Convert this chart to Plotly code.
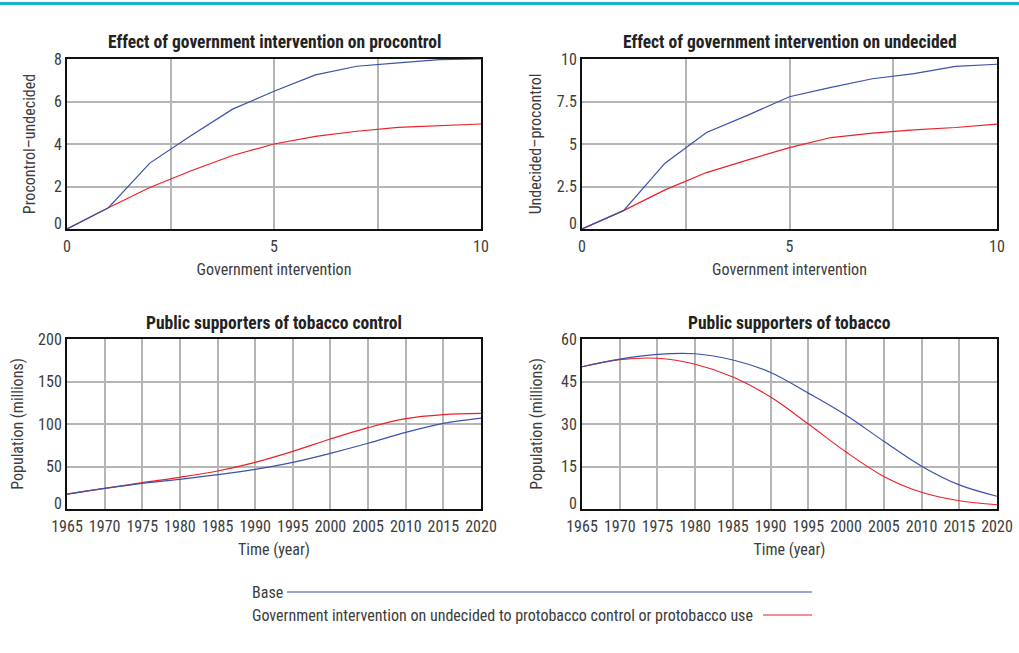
import plotly.graph_objects as go

# Effect of government intervention (lookup curves)
gi_x = [0, 1, 2, 3, 4, 5, 6, 7, 8, 9, 10]
procontrol_base = [0, 1.0, 3.1, 4.4, 5.64, 6.48, 7.25, 7.66, 7.82, 7.97, 8.0]
procontrol_int = [0, 1.0, 1.95, 2.74, 3.46, 4.0, 4.36, 4.6, 4.78, 4.86, 4.94]
undecided_base = [0, 1.08, 3.87, 5.68, 6.7, 7.78, 8.33, 8.84, 9.14, 9.57, 9.69]
undecided_int = [0, 1.08, 2.3, 3.32, 4.07, 4.79, 5.38, 5.64, 5.83, 5.97, 6.17]

# Simulated populations over time
years = [1965, 1970, 1975, 1980, 1985, 1990, 1995, 2000, 2005, 2010, 2015, 2020]
control_base = [17.6, 24.3, 30.2, 34.9, 40.4, 46.7, 54.9, 65.5, 77.3, 90.2, 100.8, 107.0]
control_int = [17.6, 24.3, 31.0, 37.3, 44.7, 54.9, 67.8, 82.4, 95.7, 106.3, 111.0, 112.5]
tobacco_base = [50.2, 52.9, 54.6, 54.8, 52.6, 48.2, 40.9, 33.1, 23.9, 15.1, 8.5, 4.5]
tobacco_int = [50.2, 52.7, 53.2, 51.1, 46.6, 39.5, 30.0, 20.1, 11.5, 5.9, 2.9, 1.5]

# Tick values
gi_ticks_x = [0, 2.5, 5, 7.5, 10]
gi_labels_x = ["0", "", "5", "", "10"]
procontrol_ticks = [0, 2, 4, 6, 8]
undecided_ticks = [0, 2.5, 5, 7.5, 10]
control_ticks = [0, 50, 100, 150, 200]
tobacco_ticks = [0, 15, 30, 45, 60]

legend_labels = ["Base",
                 "Government intervention on undecided to protobacco control or protobacco use"]

BLUE = "#3a52aa"
RED = "#ec2029"
FONT = "Liberation Sans Narrow, Roboto Condensed, DejaVu Sans Condensed, Roboto, sans-serif"
W, H = 1019, 653
PLOT_H = 170      # plot area height in px
ZERO_LIFT = 6     # px the bottom y label sits above the axis line

fig = go.Figure()

panels = [
    ("x", "y", gi_x, procontrol_base, procontrol_int, "linear"),
    ("x2", "y2", gi_x, undecided_base, undecided_int, "linear"),
    ("x3", "y3", years, control_base, control_int, "spline"),
    ("x4", "y4", years, tobacco_base, tobacco_int, "spline"),
]
for xa, ya, xs, b, r, shape in panels:
    fig.add_trace(go.Scatter(x=xs, y=r, xaxis=xa, yaxis=ya, mode="lines",
                             line=dict(color=RED, width=1.2, shape=shape),
                             showlegend=False, hoverinfo="skip"))
    fig.add_trace(go.Scatter(x=xs, y=b, xaxis=xa, yaxis=ya, mode="lines",
                             line=dict(color=BLUE, width=1.2, shape=shape),
                             showlegend=False, hoverinfo="skip"))

def px_x(p):
    return p / W

def px_y(p):
    return 1 - p / H

left_dom = [px_x(67), px_x(481)]
right_dom = [px_x(582), px_x(997)]
top_dom = [px_y(229), px_y(59)]
bot_dom = [px_y(509), px_y(339)]

tick_font = dict(family=FONT, size=16, color="#3c3c3c")
title_font = dict(family=FONT, size=16, color="#3c3c3c")
GRID = "#b5b5b5"
common = dict(showline=True, linecolor="#111111", linewidth=2, mirror=True,
              zeroline=False, ticks="", tickfont=tick_font, tickangle=0, automargin=False)

gi_axis = dict(tickmode="array", tickvals=gi_ticks_x, ticktext=gi_labels_x, range=[0, 10],
               ticklabelstandoff=2, showgrid=True, gridcolor=GRID, gridwidth=1.5)
yr_axis = dict(tickmode="linear", tick0=1965, dtick=5, range=[1965, 2020], ticklabelstandoff=2,
               showgrid=True, gridcolor=GRID, gridwidth=1.5)

def y_axis(vals):
    # gridlines come from minor ticks at the values; the bottom label is
    # nudged up so it clears the x tick labels below it
    lo, hi = vals[0], vals[-1]
    lift = ZERO_LIFT * (hi - lo) / PLOT_H
    label_pos = [lo + lift] + list(vals[1:])
    return dict(tickmode="array", tickvals=label_pos, ticktext=[f"{v:g}" for v in vals],
                range=[lo, hi], showgrid=False,
                minor=dict(tickmode="array", tickvals=list(vals), showgrid=True,
                           gridcolor=GRID, gridwidth=1.5, ticks=""))

fig.update_layout(
    width=W, height=H, margin=dict(l=0, r=0, t=0, b=0, autoexpand=False),
    paper_bgcolor="white", plot_bgcolor="white", showlegend=False,
    xaxis=dict(domain=left_dom, anchor="y", **gi_axis, **common,
               title=dict(text="Government intervention", font=title_font, standoff=9)),
    yaxis=dict(domain=top_dom, anchor="x", **y_axis(procontrol_ticks), **common,
               title=dict(text="Procontrol–undecided", font=title_font, standoff=14)),
    xaxis2=dict(domain=right_dom, anchor="y2", **gi_axis, **common,
                title=dict(text="Government intervention", font=title_font, standoff=9)),
    yaxis2=dict(domain=top_dom, anchor="x2", **y_axis(undecided_ticks), **common,
                title=dict(text="Undecided–procontrol", font=title_font, standoff=11)),
    xaxis3=dict(domain=left_dom, anchor="y3", **yr_axis, **common,
                title=dict(text="Time (year)", font=title_font, standoff=9)),
    yaxis3=dict(domain=bot_dom, anchor="x3", **y_axis(control_ticks), **common,
                title=dict(text="Population (millions)", font=title_font, standoff=10)),
    xaxis4=dict(domain=right_dom, anchor="y4", **yr_axis, **common,
                title=dict(text="Time (year)", font=title_font, standoff=9)),
    yaxis4=dict(domain=bot_dom, anchor="x4", **y_axis(tobacco_ticks), **common,
                title=dict(text="Population (millions)", font=title_font, standoff=14)),
)

titles = [
    ("Effect of government intervention on procontrol", (67 + 481) / 2, 42),
    ("Effect of government intervention on undecided", (582 + 997) / 2, 42),
    ("Public supporters of tobacco control", (67 + 481) / 2, 323),
    ("Public supporters of tobacco", (582 + 997) / 2, 323),
]
for text, cx, cy in titles:
    fig.add_annotation(text=f"<b>{text}</b>", x=px_x(cx), y=px_y(cy), xref="paper", yref="paper",
                       showarrow=False, xanchor="center", yanchor="middle",
                       font=dict(family=FONT, size=17.5, color="#222222"))

# Top accent rule
fig.add_shape(type="line", xref="paper", yref="paper", x0=0, x1=1,
              y0=px_y(3.5), y1=px_y(3.5), line=dict(color="#17b2d0", width=3))

# Legend
fig.add_annotation(text=legend_labels[0], x=px_x(250), y=px_y(592), xref="paper", yref="paper",
                   showarrow=False, xanchor="left", yanchor="middle",
                   font=dict(family=FONT, size=16, color="#3c3c3c"))
fig.add_shape(type="line", xref="paper", yref="paper", x0=px_x(287), x1=px_x(812),
              y0=px_y(592), y1=px_y(592), line=dict(color=BLUE, width=1.2))
fig.add_annotation(text=legend_labels[1], x=px_x(250), y=px_y(615), xref="paper", yref="paper",
                   showarrow=False, xanchor="left", yanchor="middle",
                   font=dict(family=FONT, size=16, color="#3c3c3c"))
fig.add_shape(type="line", xref="paper", yref="paper", x0=px_x(763), x1=px_x(812),
              y0=px_y(615), y1=px_y(615), line=dict(color=RED, width=1.2))

fig.write_html("out.html")
